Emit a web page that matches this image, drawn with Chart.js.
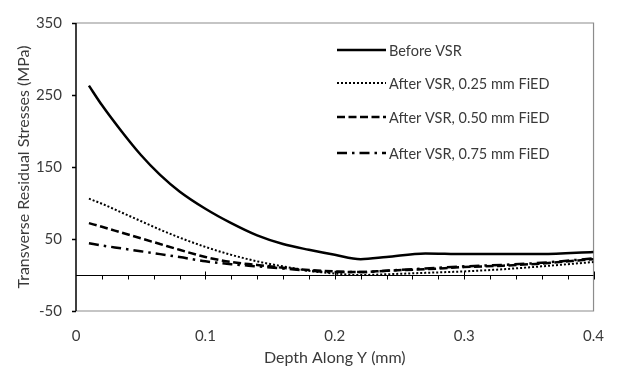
<!DOCTYPE html>
<html>
<head>
<meta charset="utf-8">
<script src="https://cdn.jsdelivr.net/npm/chart.js@4"></script>
<style>
  html, body { margin: 0; padding: 0; background: #fff; }
  #wrap { width: 620px; height: 370px; position: relative; }
</style>
</head>
<body>
<div id="wrap"><canvas id="c"></canvas></div>
<script>
// depth along Y (mm)
const depth = [0.01, 0.02, 0.035, 0.05, 0.065, 0.08, 0.1, 0.12, 0.14, 0.16, 0.18, 0.2, 0.22, 0.24, 0.27, 0.3, 0.33, 0.36, 0.4];

// transverse residual stresses (MPa)
const beforeVSR = [263, 236, 200, 167, 139, 116, 92, 72, 55, 43, 35, 28, 22, 25, 30, 29, 29, 29, 32];
const after025 = [106, 99, 87, 75, 63, 52, 39, 28, 19, 12, 6, 2, 0, 1, 3, 5, 8, 12, 18];
const after050 = [72, 67, 59, 51, 43, 35, 25, 18, 14, 10, 7, 5, 4, 6, 8, 11, 13, 16, 22];
const after075 = [44, 41, 37, 33, 29, 25, 19, 15, 12, 9, 6, 4, 4, 6, 9, 12, 14, 17, 23];

const seriesLabels = ['Before VSR', 'After VSR, 0.25 mm FiED', 'After VSR, 0.50 mm FiED', 'After VSR, 0.75 mm FiED'];
const xTicks = [0, 0.1, 0.2, 0.3, 0.4];
const yTicks = [-50, 50, 150, 250, 350];

const FONT = 'Lato, "Open Sans", sans-serif';
const TXT = '#3a3a3a';

const pts = ys => depth.map((x, i) => ({ x: x, y: ys[i] }));

const styles = [
  { borderWidth: 2.5, borderDash: [] },
  { borderWidth: 2, borderDash: [2, 2] },
  { borderWidth: 2.5, borderDash: [8, 3.5] },
  { borderWidth: 2.5, borderDash: [10, 5, 2.5, 5] }
];
const values = [beforeVSR, after025, after050, after075];

const datasets = values.map((v, i) => ({
  label: seriesLabels[i],
  data: pts(v),
  borderColor: '#000',
  borderWidth: styles[i].borderWidth,
  borderDash: styles[i].borderDash,
  pointRadius: 0,
  fill: false,
  tension: 0.4,
  cubicInterpolationMode: 'monotone'
}));

// box, zero line with ticks, legend inside the plot
const decor = {
  id: 'decor',
  beforeDatasetsDraw(chart) {
    const { ctx, chartArea: a, scales: { x, y } } = chart;
    ctx.save();
    ctx.strokeStyle = '#8c8c8c';
    ctx.lineWidth = 1.2;
    ctx.beginPath();
    ctx.moveTo(a.left, a.top); ctx.lineTo(a.right, a.top);
    ctx.lineTo(a.right, a.bottom); ctx.lineTo(a.left, a.bottom);
    ctx.stroke();
    // zero line
    const y0 = Math.round(y.getPixelForValue(0)) + 0.5;
    ctx.strokeStyle = '#000';
    ctx.lineWidth = 1;
    ctx.beginPath();
    ctx.moveTo(a.left, y0); ctx.lineTo(a.right, y0);
    for (let k = 1; k <= 20; k++) {
      const px = Math.round(x.getPixelForValue(k * 0.02)) + 0.5;
      const major = k % 5 === 0;
      ctx.moveTo(px, major ? y0 - 4 : y0);
      ctx.lineTo(px, y0 + 4);
    }
    ctx.stroke();
    // left axis
    ctx.lineWidth = 1.5;
    ctx.beginPath();
    ctx.moveTo(a.left, a.top); ctx.lineTo(a.left, a.bottom);
    yTicks.forEach(t => {
      const py = Math.round(y.getPixelForValue(t)) + 0.5;
      ctx.moveTo(a.left - 4, py); ctx.lineTo(a.left, py);
    });
    ctx.stroke();
    ctx.restore();
  },
  afterDraw(chart) {
    const { ctx } = chart;
    const rows = [50, 83, 117, 153];
    ctx.save();
    chart.data.datasets.forEach((ds, i) => {
      ctx.strokeStyle = '#000';
      ctx.lineWidth = ds.borderWidth;
      ctx.setLineDash(ds.borderDash);
      ctx.beginPath();
      ctx.moveTo(337, rows[i]);
      ctx.lineTo(386, rows[i]);
      ctx.stroke();
      ctx.setLineDash([]);
      ctx.fillStyle = TXT;
      ctx.font = '14.5px ' + FONT;
      ctx.textBaseline = 'middle';
      ctx.textAlign = 'left';
      ctx.fillText(ds.label, 389, rows[i] + 1);
    });
    ctx.restore();
  }
};

new Chart(document.getElementById('c'), {
  type: 'line',
  data: { datasets: datasets },
  options: {
    responsive: true,
    maintainAspectRatio: false,
    animation: false,
    layout: { padding: { left: 0, top: 19, right: 21, bottom: 0 } },
    plugins: { legend: { display: false }, tooltip: { enabled: false } },
    scales: {
      x: {
        type: 'linear',
        min: 0, max: 0.4,
        afterFit: s => { s.height = 59; },
        afterBuildTicks: s => { s.ticks = xTicks.map(v => ({ value: v })); },
        grid: { display: false, drawTicks: false },
        border: { display: false },
        ticks: {
          padding: 16,
          color: TXT,
          font: { family: FONT, size: 15 },
          callback: v => String(v)
        },
        title: {
          display: true,
          text: 'Depth Along Y (mm)',
          color: TXT,
          font: { family: FONT, size: 16 },
          padding: { top: 0, bottom: 3 }
        }
      },
      y: {
        min: -50, max: 350,
        afterFit: s => { s.width = 76; },
        afterBuildTicks: s => { s.ticks = yTicks.map(v => ({ value: v })); },
        grid: { display: false, drawTicks: false },
        border: { display: false },
        ticks: {
          padding: 14,
          color: TXT,
          font: { family: FONT, size: 15 }
        },
        title: {
          display: true,
          text: 'Transverse Residual Stresses (MPa)',
          color: TXT,
          font: { family: FONT, size: 16 },
          padding: { top: 14, bottom: 0 }
        }
      }
    }
  },
  plugins: [decor]
});
</script>
</body>
</html>
